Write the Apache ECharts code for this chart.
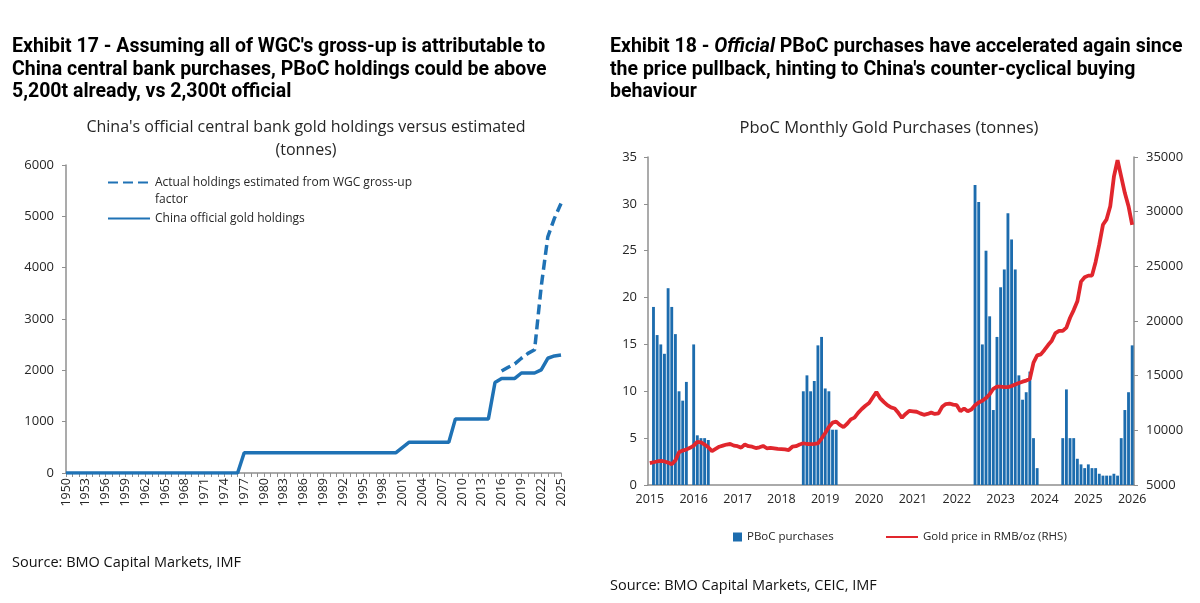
<!DOCTYPE html>
<html>
<head>
<meta charset="utf-8">
<title>PBoC gold holdings and purchases</title>
<script src="https://cdn.jsdelivr.net/npm/echarts@6/dist/echarts.min.js"></script>
<style>
html, body { margin: 0; padding: 0; background: #fff; }
#chart { width: 1200px; height: 603px; }
</style>
</head>
<body>
<div id="chart"></div>
<script>
// Exhibit 17 - yearly holdings (tonnes)
var holdYears = ['1950','1951','1952','1953','1954','1955','1956','1957','1958','1959',
    '1960','1961','1962','1963','1964','1965','1966','1967','1968','1969',
    '1970','1971','1972','1973','1974','1975','1976','1977','1978','1979',
    '1980','1981','1982','1983','1984','1985','1986','1987','1988','1989',
    '1990','1991','1992','1993','1994','1995','1996','1997','1998','1999',
    '2000','2001','2002','2003','2004','2005','2006','2007','2008','2009',
    '2010','2011','2012','2013','2014','2015','2016','2017','2018','2019',
    '2020','2021','2022','2023','2024','2025'];
var officialHold = [0,0,0,0,0,0,0,0,0,0,
    0,0,0,0,0,0,0,0,0,0,
    0,0,0,0,0,0,0,395,395,395,
    395,395,395,395,395,395,395,395,395,395,
    395,395,395,395,395,395,395,395,395,395,
    395,500,600,600,600,600,600,600,600,1054,
    1054,1054,1054,1054,1054,1762,1842,1842,1842,1948,
    1948,1948,2010,2235,2280,2300];
var estimatedHold = [null,null,null,null,null,null,null,null,null,null,
    null,null,null,null,null,null,null,null,null,null,
    null,null,null,null,null,null,null,null,null,null,
    null,null,null,null,null,null,null,null,null,null,
    null,null,null,null,null,null,null,null,null,null,
    null,null,null,null,null,null,null,null,null,null,
    null,null,null,null,null,null,1985,2060,2125,2235,
    2330,2400,3630,4600,4960,5250];

// Exhibit 18 - monthly purchases (tonnes) and gold price (RMB/oz)
var months = [
    '2015-01','2015-02','2015-03','2015-04','2015-05','2015-06','2015-07','2015-08','2015-09','2015-10','2015-11','2015-12',
    '2016-01','2016-02','2016-03','2016-04','2016-05','2016-06','2016-07','2016-08','2016-09','2016-10','2016-11','2016-12',
    '2017-01','2017-02','2017-03','2017-04','2017-05','2017-06','2017-07','2017-08','2017-09','2017-10','2017-11','2017-12',
    '2018-01','2018-02','2018-03','2018-04','2018-05','2018-06','2018-07','2018-08','2018-09','2018-10','2018-11','2018-12',
    '2019-01','2019-02','2019-03','2019-04','2019-05','2019-06','2019-07','2019-08','2019-09','2019-10','2019-11','2019-12',
    '2020-01','2020-02','2020-03','2020-04','2020-05','2020-06','2020-07','2020-08','2020-09','2020-10','2020-11','2020-12',
    '2021-01','2021-02','2021-03','2021-04','2021-05','2021-06','2021-07','2021-08','2021-09','2021-10','2021-11','2021-12',
    '2022-01','2022-02','2022-03','2022-04','2022-05','2022-06','2022-07','2022-08','2022-09','2022-10','2022-11','2022-12',
    '2023-01','2023-02','2023-03','2023-04','2023-05','2023-06','2023-07','2023-08','2023-09','2023-10','2023-11','2023-12',
    '2024-01','2024-02','2024-03','2024-04','2024-05','2024-06','2024-07','2024-08','2024-09','2024-10','2024-11','2024-12',
    '2025-01','2025-02','2025-03','2025-04','2025-05','2025-06','2025-07','2025-08','2025-09','2025-10','2025-11','2025-12',
    '2026-01'];
var pbocBuys = [
    null,19,16,15,14,21,19,16.1,10,9,11,null,
    15,5.3,5,5,4.8,null,null,null,null,null,null,null,
    null,null,null,null,null,null,null,null,null,null,null,null,
    null,null,null,null,null,null,10,11.7,10,11.1,14.9,15.8,
    10.3,10,5.9,5.9,null,null,null,null,null,null,null,null,
    null,null,null,null,null,null,null,null,null,null,null,null,
    null,null,null,null,null,null,null,null,null,null,null,null,
    null,null,null,null,null,32,30.2,15,25,18,8,15.8,
    21.1,23,29,26.2,23,11.7,9.1,9.9,12.1,5,1.8,null,
    null,null,null,null,null,5,10.2,5,5,2.8,2.2,1.8,
    2.2,1.8,1.8,1.2,1,1,1,1.2,1,5,8,9.9,
    14.9];
var goldRmb = [
    7000,7080,7150,7200,7150,7050,6900,7250,8000,8150,8250,8400,
    8600,8950,8900,8700,8450,8100,8300,8500,8600,8700,8750,8600,
    8550,8420,8700,8550,8500,8380,8450,8570,8360,8400,8350,8300,
    8280,8250,8200,8500,8550,8700,8820,8750,8730,8760,8800,9250,
    9750,10300,10700,10800,10500,10300,10600,11000,11160,11600,11950,12250,
    12500,13000,13500,12950,12600,12300,12100,12000,11600,11150,11500,11780,
    11740,11700,11550,11420,11500,11620,11500,11550,12150,12400,12450,12350,
    12300,11750,12000,11750,11900,12300,12550,12700,12950,13300,13800,14000,
    14000,13960,13950,14050,14200,14330,14450,14550,14700,16200,16850,16950,
    17350,17800,18200,18900,19100,19100,19400,20300,21000,21800,23600,24000,
    24150,24150,25400,27000,28800,29300,30500,33200,34700,33200,31700,30500,
    28800];

var blue = '#1f72b5';
var red = '#e1262d';
var axisGrey = '#8f8f8f';
var txt = '#262626';
var chartFont = 'Open Sans';

var myChart = echarts.init(document.getElementById('chart'));

// one tick / label per January
function everyYear(index) {
    return index % 12 === 0;
}
function plainNumber(v) {
    return String(v);
}

var headStyle = { fontFamily: 'Roboto', fontWeight: 'bold', fontSize: 19.5, lineHeight: 22.5, color: '#000' };

var option = {
    animation: false,
    backgroundColor: '#fff',
    textStyle: { fontFamily: chartFont },
    title: [
        {
            left: 12, top: 36, padding: 0,
            text: "Exhibit 17 - Assuming all of WGC's gross-up is attributable to\nChina central bank purchases, PBoC holdings could be above\n5,200t already, vs 2,300t official",
            textStyle: headStyle
        },
        {
            left: 610, top: 36, padding: 0,
            text: '{b|Exhibit 18 - }{i|Official}{b| PBoC purchases have accelerated again since}\n{b|the price pullback, hinting to China\'s counter-cyclical buying}\n{b|behaviour}',
            textStyle: {
                rich: {
                    b: headStyle,
                    i: { fontFamily: 'Roboto', fontWeight: 'bold', fontStyle: 'italic', fontSize: 19.5, lineHeight: 22.5, color: '#000' }
                }
            }
        },
        {
            left: 306, top: 116, padding: 0, textAlign: 'center',
            text: "China's official central bank gold holdings versus estimated\n(tonnes)",
            textStyle: { fontFamily: chartFont, fontWeight: 'normal', fontSize: 16, lineHeight: 23, color: txt }
        },
        {
            left: 889, top: 117, padding: 0, textAlign: 'center',
            text: 'PboC Monthly Gold Purchases (tonnes)',
            textStyle: { fontFamily: chartFont, fontWeight: 'normal', fontSize: 16.5, lineHeight: 23, color: txt }
        },
        {
            left: 12, top: 555, padding: 0,
            text: 'Source: BMO Capital Markets, IMF',
            textStyle: { fontFamily: chartFont, fontWeight: 'normal', fontSize: 14.5, color: '#111' }
        },
        {
            left: 610, top: 578, padding: 0,
            text: 'Source: BMO Capital Markets, CEIC, IMF',
            textStyle: { fontFamily: chartFont, fontWeight: 'normal', fontSize: 14.5, color: '#111' }
        }
    ],
    legend: [
        {
            left: 102, top: 152, orient: 'vertical', itemWidth: 42, itemHeight: 10, itemGap: 2,
            data: ['Actual holdings estimated from WGC gross-up factor', 'China official gold holdings'],
            formatter: function (name) {
                // keep the first text line level with the dashed icon
                if (name.indexOf('Actual') === 0) {
                    return '\nActual holdings estimated from WGC gross-up\nfactor';
                }
                return name;
            },
            itemStyle: { opacity: 0 },
            textStyle: { fontFamily: chartFont, fontSize: 12, lineHeight: 17, color: txt }
        },
        {
            left: 728, top: 526, itemWidth: 9, itemHeight: 9,
            data: [{ name: 'PBoC purchases', icon: 'rect' }],
            textStyle: { fontFamily: chartFont, fontSize: 11.5, color: txt }
        },
        {
            left: 880, top: 526, itemWidth: 32, itemHeight: 10,
            data: ['Gold price in RMB/oz (RHS)'],
            itemStyle: { opacity: 0 },
            textStyle: { fontFamily: chartFont, fontSize: 11.5, color: txt }
        }
    ],
    grid: [
        { left: 66, top: 165, width: 495, height: 308 },
        { left: 648, top: 157, width: 486, height: 328 }
    ],
    xAxis: [
        {
            gridIndex: 0, type: 'category', data: holdYears, boundaryGap: false,
            axisLine: { lineStyle: { color: axisGrey, width: 1.5 } },
            axisTick: { interval: 0, length: 4, lineStyle: { color: axisGrey } },
            axisLabel: { interval: 2, rotate: 90, fontSize: 12.5, color: txt, margin: 5 }
        },
        {
            gridIndex: 1, type: 'category', data: months, boundaryGap: true,
            axisLine: { lineStyle: { color: axisGrey, width: 1.5 } },
            axisTick: { interval: everyYear, length: 5, lineStyle: { color: axisGrey } },
            axisLabel: {
                interval: everyYear, fontSize: 12.5, color: txt, margin: 8,
                formatter: function (v) { return v.slice(0, 4); }
            }
        }
    ],
    yAxis: [
        {
            gridIndex: 0, type: 'value', min: 0, max: 6000, interval: 1000,
            axisLine: { show: true, lineStyle: { color: axisGrey, width: 1.5 } },
            axisTick: { show: true, length: 4, lineStyle: { color: axisGrey } },
            splitLine: { show: false },
            axisLabel: { fontSize: 13, color: txt, margin: 12, formatter: plainNumber }
        },
        {
            gridIndex: 1, type: 'value', position: 'left', min: 0, max: 35, interval: 5,
            axisLine: { show: true, lineStyle: { color: axisGrey, width: 1.5 } },
            axisTick: { show: true, length: 4, lineStyle: { color: axisGrey } },
            splitLine: { show: false },
            axisLabel: { fontSize: 13, color: txt, margin: 11, formatter: plainNumber }
        },
        {
            gridIndex: 1, type: 'value', position: 'right', min: 5000, max: 35000, interval: 5000,
            axisLine: { show: true, lineStyle: { color: axisGrey, width: 1.5 } },
            axisTick: { show: true, length: 4, lineStyle: { color: axisGrey } },
            splitLine: { show: false },
            axisLabel: { fontSize: 13, color: txt, margin: 12, formatter: plainNumber }
        }
    ],
    series: [
        {
            name: 'Actual holdings estimated from WGC gross-up factor',
            type: 'line', xAxisIndex: 0, yAxisIndex: 0,
            data: estimatedHold, symbol: 'none', connectNulls: false,
            lineStyle: { color: blue, width: 3.5, type: [10, 5] },
            itemStyle: { color: blue }
        },
        {
            name: 'China official gold holdings',
            type: 'line', xAxisIndex: 0, yAxisIndex: 0,
            data: officialHold, symbol: 'none',
            lineStyle: { color: blue, width: 3.5 },
            itemStyle: { color: blue }
        },
        {
            name: 'PBoC purchases',
            type: 'bar', xAxisIndex: 1, yAxisIndex: 1,
            data: pbocBuys, barWidth: '78%',
            itemStyle: { color: '#1c6cae' }
        },
        {
            name: 'Gold price in RMB/oz (RHS)',
            type: 'line', xAxisIndex: 1, yAxisIndex: 2,
            data: goldRmb, symbol: 'none', z: 5,
            lineStyle: { color: red, width: 3.8 },
            itemStyle: { color: red }
        }
    ]
};

myChart.setOption(option);
</script>
</body>
</html>
